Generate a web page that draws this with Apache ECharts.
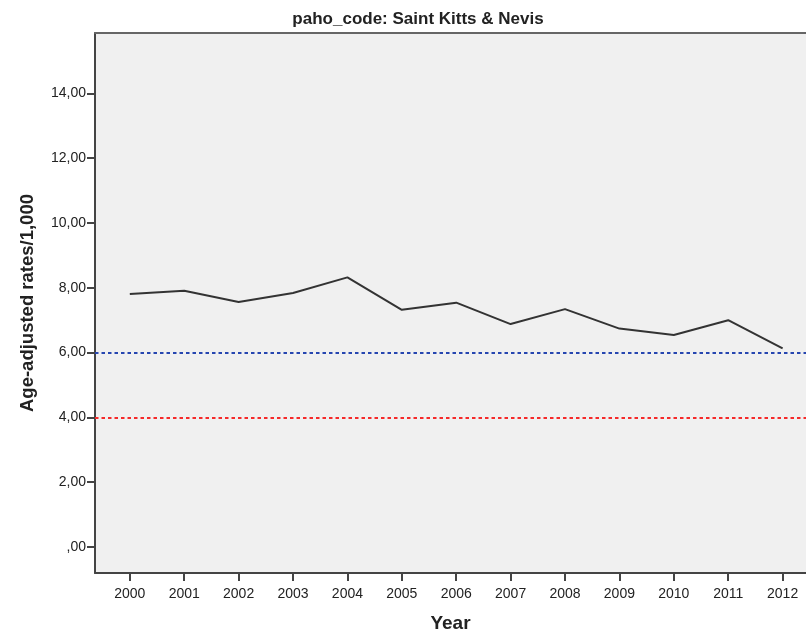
<!DOCTYPE html>
<html>
<head>
<meta charset="utf-8">
<style>
html,body{margin:0;padding:0;background:#fff;}
#c{width:806px;height:633px;}
</style>
<script src="https://cdn.jsdelivr.net/npm/echarts@6/dist/echarts.min.js"></script>
</head>
<body>
<div id="c"></div>
<script>
const years = [2000, 2001, 2002, 2003, 2004, 2005, 2006, 2007, 2008, 2009, 2010, 2011, 2012];
const rates = [7.81, 7.91, 7.56, 7.84, 8.32, 7.32, 7.54, 6.88, 7.34, 6.74, 6.54, 7.00, 6.13];
const yTicks = [0, 2, 4, 6, 8, 10, 12, 14];
const refBlue = 6;
const refRed = 4;
const titleText = 'paho_code: Saint Kitts & Nevis';
const yName = 'Age-adjusted rates/1,000';
const xName = 'Year';

const chart = echarts.init(document.getElementById('c'), null, {renderer: 'canvas'});
const fmt = v => {
  const s = v.toFixed(2).replace('.', ',');
  return s.startsWith('0,') ? s.slice(1) : s;
};
const font = 'Liberation Sans, Arial, sans-serif';
chart.setOption({
  animation: false,
  backgroundColor: '#ffffff',
  title: {
    text: titleText,
    left: 413,
    textAlign: 'center',
    top: 6,
    textStyle: {fontFamily: font, fontWeight: 'bold', fontSize: 17, color: '#222'}
  },
  grid: {
    left: 95, top: 33, bottom: 60, right: 0,
    outerBoundsMode: 'none',
    containLabel: false,
    show: true, backgroundColor: '#f0f0f0', borderWidth: 0
  },
  xAxis: [{
    type: 'value',
    min: 1999.36, max: 2012.43,
    name: xName, nameLocation: 'middle', nameGap: 41,
    nameTextStyle: {fontFamily: font, fontWeight: 'bold', fontSize: 19, color: '#222'},
    axisLine: {show: true, onZero: false, lineStyle: {color: '#444', width: 2}},
    axisTick: {show: true, length: 8, lineStyle: {color: '#444', width: 2}, customValues: years},
    axisLabel: {customValues: years, formatter: v => String(v), fontFamily: font, fontSize: 14, color: '#222', margin: 14},
    splitLine: {show: false}
  }, {
    type: 'value',
    position: 'top',
    min: 1999.36, max: 2012.43,
    axisLine: {show: true, onZero: false, lineStyle: {color: '#666', width: 2}},
    axisTick: {show: false},
    axisLabel: {show: false},
    splitLine: {show: false}
  }],
  yAxis: {
    type: 'value',
    min: -0.8, max: 15.86,
    name: yName, nameLocation: 'middle', nameGap: 58,
    nameTextStyle: {fontFamily: font, fontWeight: 'bold', fontSize: 18.5, color: '#222'},
    axisLine: {show: true, onZero: false, lineStyle: {color: '#444', width: 2}},
    axisTick: {show: true, length: 8, lineStyle: {color: '#444', width: 2}, customValues: yTicks},
    axisLabel: {customValues: yTicks, formatter: v => fmt(v), fontFamily: font, fontSize: 14, color: '#222', margin: 9},
    splitLine: {show: false}
  },
  series: [{
    type: 'line',
    xAxisIndex: 0,
    data: years.map((y, i) => [y, rates[i]]),
    symbol: 'none',
    lineStyle: {color: '#333', width: 2},
    markLine: {
      silent: true,
      symbol: 'none',
      label: {show: false},
      data: [
        {yAxis: refBlue, lineStyle: {color: '#2646b0', width: 2.2, type: [3.5, 3]}},
        {yAxis: refRed, lineStyle: {color: '#f52a2a', width: 2.2, type: [3.5, 3]}}
      ]
    }
  }]
});
</script>
</body>
</html>
